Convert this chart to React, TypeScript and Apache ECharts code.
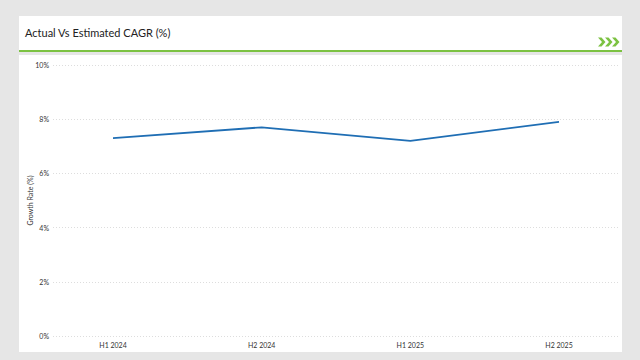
import React, { useEffect, useRef } from "react";
import * as echarts from "echarts";

const categories = ["H1 2024", "H2 2024", "H1 2025", "H2 2025"];
const growthValues = [7.3, 7.7, 7.2, 7.9];
const yTicks = { min: 0, max: 10, interval: 2 };
const titleText = "Actual Vs Estimated CAGR (%)";
const yAxisTitle = "Growth Rate (%)";

const chevron = (x0: number, y0: number) => [
  [x0, y0],
  [x0 + 3.5, y0],
  [x0 + 7.5, y0 + 4.5],
  [x0 + 3.5, y0 + 9],
  [x0, y0 + 9],
  [x0 + 4, y0 + 4.5],
];

export default function App() {
  const ref = useRef<HTMLDivElement>(null);
  useEffect(() => {
    if (!ref.current) return;
    const chart = echarts.init(ref.current, null, { renderer: "svg" });
    const font = "Lato, 'Open Sans', sans-serif";
    chart.setOption({
      animation: false,
      backgroundColor: "#e6e6e6",
      title: {
        text: titleText,
        left: 20,
        top: 22,
        textStyle: { fontSize: 11, fontWeight: "normal", color: "#222", fontFamily: font },
      },
      graphic: [
        { type: "rect", z: -10, shape: { x: 19, y: 16, width: 603, height: 35 }, style: { fill: "#ffffff" } },
        { type: "rect", z: -9, shape: { x: 19, y: 50, width: 603, height: 2 }, style: { fill: "#7cc242" } },
        { type: "rect", z: -10, shape: { x: 19, y: 55, width: 603, height: 297 }, style: { fill: "#ffffff" } },
        { type: "polygon", z: 5, shape: { points: chevron(598, 37.5) }, style: { fill: "#7cc242" } },
        { type: "polygon", z: 5, shape: { points: chevron(605, 37.5) }, style: { fill: "#7cc242" } },
        { type: "polygon", z: 5, shape: { points: chevron(612, 37.5) }, style: { fill: "#7cc242" } },
      ],
      grid: [
        { left: 53, right: 22, top: 65, bottom: 24 },
        { left: 113, right: 81, top: 65, bottom: 24 },
      ],
      xAxis: [
        { type: "value", gridIndex: 0, show: false, min: 0, max: 1 },
        {
          type: "category",
          gridIndex: 1,
          data: categories,
          boundaryGap: false,
          axisLine: { show: false },
          axisTick: { show: false },
          splitLine: { show: false },
          axisLabel: { fontSize: 7, color: "#333", margin: 5, fontFamily: font },
        },
      ],
      yAxis: [
        {
          type: "value",
          gridIndex: 0,
          min: yTicks.min,
          max: yTicks.max,
          interval: yTicks.interval,
          name: yAxisTitle,
          nameLocation: "middle",
          nameGap: 20,
          nameMoveOverlap: false,
          nameTextStyle: { fontSize: 7, color: "#333", fontFamily: font },
          axisLine: { show: false },
          axisTick: { show: false },
          axisLabel: { formatter: "{value}%", fontSize: 7, color: "#333", margin: 4, fontFamily: font },
          splitLine: { lineStyle: { type: [1, 2], color: "#dddddd", width: 1 } },
        },
        {
          type: "value",
          gridIndex: 1,
          min: yTicks.min,
          max: yTicks.max,
          interval: yTicks.interval,
          show: false,
          splitLine: { show: false },
        },
      ],
      series: [
        {
          type: "line",
          xAxisIndex: 1,
          yAxisIndex: 1,
          data: growthValues,
          symbol: "none",
          lineStyle: { color: "#1f6eb4", width: 1.8 },
        },
      ],
    });
    return () => chart.dispose();
  }, []);
  return (
    <div
      ref={ref}
      style={{ position: "fixed", left: 0, top: 0, width: 640, height: 360 }}
    />
  );
}
